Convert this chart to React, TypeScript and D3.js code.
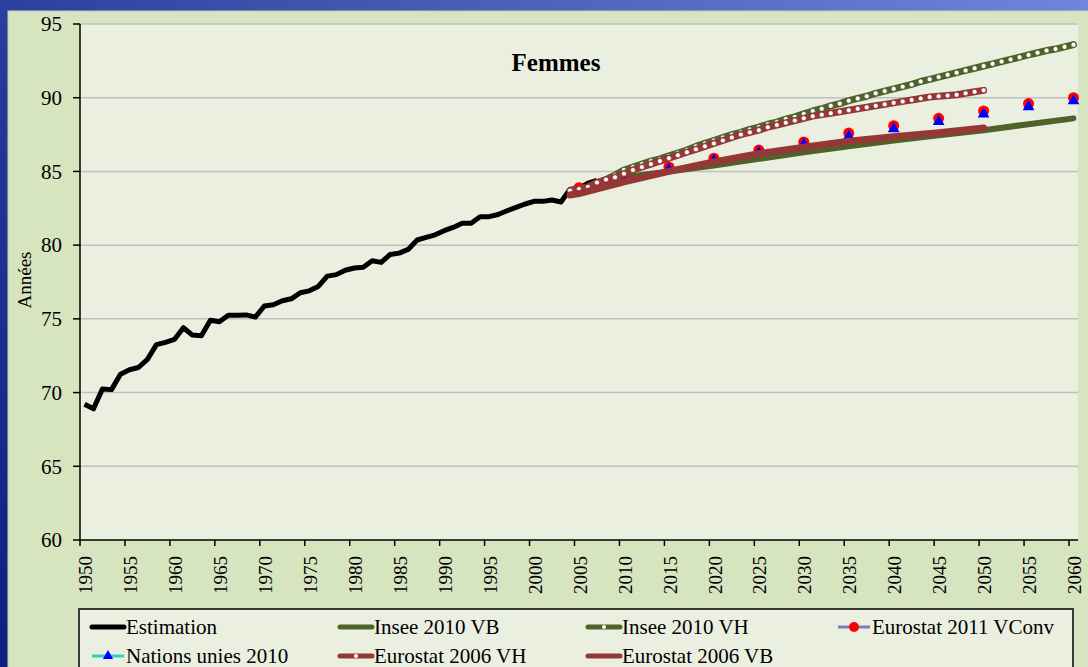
import React from "react";
import * as d3 from "d3";

// Estimation 1950-2007
const estYears = d3.range(1950, 2008);
const estimation = [
  69.2, 68.9, 70.25, 70.2, 71.25, 71.55, 71.7, 72.25, 73.25, 73.4,
  73.6, 74.4, 73.9, 73.85, 74.9, 74.8, 75.25, 75.25, 75.27, 75.12,
  75.87, 75.95, 76.23, 76.36, 76.77, 76.9, 77.2, 77.9, 78.0, 78.3,
  78.45, 78.5, 78.94, 78.83, 79.37, 79.46, 79.71, 80.35, 80.53, 80.7,
  80.98, 81.2, 81.48, 81.48, 81.93, 81.93, 82.08, 82.33, 82.56, 82.79,
  82.97, 82.97, 83.06, 82.93, 83.8, 83.85, 84.2, 84.4,
];

// Insee 2010 VB
const inseeVBYears = [2008, 2010, 2015, 2020, 2025, 2030, 2035, 2040, 2045, 2050, 2055, 2060];
const inseeVB = [84.4, 84.6, 85.0, 85.4, 85.85, 86.3, 86.7, 87.1, 87.45, 87.8, 88.2, 88.6];

// Insee 2010 VH (annual, 2008-2060)
const inseeVHYears = d3.range(2008, 2061);
const inseeVH = [
  84.45, 84.75,
  85.1, 85.3, 85.5, 85.7, 85.85, 86.05, 86.25, 86.45, 86.7, 86.9,
  87.1, 87.3, 87.5, 87.65, 87.85, 88.0, 88.2, 88.35, 88.55, 88.7,
  88.9, 89.1, 89.25, 89.45, 89.6, 89.8, 89.95, 90.1, 90.3, 90.45,
  90.6, 90.75, 90.9, 91.1, 91.25, 91.4, 91.55, 91.7, 91.85, 92.0,
  92.15, 92.3, 92.45, 92.6, 92.75, 92.9, 93.05, 93.2, 93.3, 93.45,
  93.6,
];

// Eurostat 2011 VConv (markers)
const eurostat2011Years = [2005, 2010, 2015, 2020, 2025, 2030, 2035, 2040, 2045, 2050, 2055, 2060];
const eurostat2011 = [83.9, 84.65, 85.3, 85.9, 86.45, 87.0, 87.6, 88.1, 88.6, 89.1, 89.6, 90.0];

// Nations unies 2010 (markers)
const unYears = [2010, 2015, 2020, 2025, 2030, 2035, 2040, 2045, 2050, 2055, 2060];
const nationsUnies = [84.5, 85.2, 85.8, 86.35, 86.9, 87.45, 87.95, 88.45, 88.95, 89.45, 89.85];

// Eurostat 2006 VH (annual, 2004-2050)
const eurostatVHYears = d3.range(2004, 2051);
const eurostatVH = [
  83.7, 83.8, 83.95, 84.25, 84.45, 84.6,
  84.85, 85.1, 85.3, 85.5, 85.7, 85.9, 86.1, 86.3, 86.5, 86.7,
  86.9, 87.1, 87.3, 87.5, 87.65, 87.8, 88.0, 88.15, 88.3, 88.45,
  88.6, 88.75, 88.85, 88.95, 89.05, 89.15, 89.25, 89.35, 89.45, 89.55,
  89.65, 89.75, 89.85, 89.95, 90.05, 90.1, 90.15, 90.2, 90.3, 90.4,
  90.5,
];

// Eurostat 2006 VB
const eurostatVBYears = [2004, 2005, 2010, 2015, 2020, 2025, 2030, 2035, 2040, 2045, 2050];
const eurostatVB = [83.4, 83.5, 84.3, 85.0, 85.65, 86.2, 86.65, 87.05, 87.35, 87.62, 87.95];

const years = d3.range(1950, 2061);
const yTicks = [60, 65, 70, 75, 80, 85, 90, 95];
const xTickYears = d3.range(1950, 2061, 5);

const legendItems = [
  "Estimation",
  "Insee 2010 VB",
  "Insee 2010 VH",
  "Eurostat 2011 VConv",
  "Nations unies 2010",
  "Eurostat 2006 VH",
  "Eurostat 2006 VB",
];

const OLIVE = "#4f6228";
const BRICK = "#953735";
const FONT = "Liberation Serif, Times New Roman, serif";
const txt = { fontFamily: FONT };

const W = 1088;
const H = 667;
const plot = { left: 80, right: 1078, top: 24, bottom: 540 };

export default function App() {
  const x = d3
    .scaleBand<number>()
    .domain(years)
    .range([plot.left, plot.right]);
  const cx = (yr: number) => (x(yr) ?? 0) + x.bandwidth() / 2;
  const y = d3.scaleLinear().domain([60, 95]).range([plot.bottom, plot.top]);

  const line = (ys: number[], vs: number[]) =>
    d3
      .line<number>()
      .x((_, i) => cx(ys[i]))
      .y((v) => y(v))(vs) ?? "";

  const triangle = d3.symbol(d3.symbolTriangle, 60)() ?? "";
  const legTriangle = d3.symbol(d3.symbolTriangle, 45)() ?? "";

  const legCols = [92, 340, 588, 838];
  const legRows = [627, 656];

  const legendSwatch = (i: number, lx: number, ly: number) => {
    const x2 = lx + 32;
    const mid = lx + 16;
    switch (i) {
      case 0:
        return <line x1={lx} x2={x2} y1={ly} y2={ly} stroke="#000" strokeWidth={5} strokeLinecap="round" />;
      case 1:
        return <line x1={lx} x2={x2} y1={ly} y2={ly} stroke={OLIVE} strokeWidth={5} strokeLinecap="round" />;
      case 2:
        return (
          <g>
            <line x1={lx} x2={x2} y1={ly} y2={ly} stroke={OLIVE} strokeWidth={5} strokeLinecap="round" />
            <circle cx={mid} cy={ly} r={2} fill="#fff" />
          </g>
        );
      case 3:
        return (
          <g>
            <line x1={lx} x2={x2} y1={ly} y2={ly} stroke="#7b7fb8" strokeWidth={3} />
            <circle cx={mid} cy={ly} r={5} fill="#ff0000" />
          </g>
        );
      case 4:
        return (
          <g>
            <line x1={lx} x2={x2} y1={ly} y2={ly} stroke="#33cccc" strokeWidth={3} />
            <path d={legTriangle} transform={`translate(${mid},${ly})`} fill="#0000ff" />
          </g>
        );
      case 5:
        return (
          <g>
            <line x1={lx} x2={x2} y1={ly} y2={ly} stroke={BRICK} strokeWidth={5} strokeLinecap="round" />
            <circle cx={mid} cy={ly} r={2} fill="#fff" />
          </g>
        );
      default:
        return <line x1={lx} x2={x2} y1={ly} y2={ly} stroke={BRICK} strokeWidth={5} strokeLinecap="round" />;
    }
  };

  return (
    <svg
      width={W}
      height={H}
      style={{ position: "fixed", left: 0, top: 0, display: "block" }}
    >
      <defs>
        <linearGradient id="bg" x1="0" y1="1" x2="1" y2="0">
          <stop offset="0" stopColor="#0d1f80" />
          <stop offset="0.45" stopColor="#243a98" />
          <stop offset="1" stopColor="#6f86dc" />
        </linearGradient>
      </defs>
      <rect width={W} height={H} fill="url(#bg)" />
      {/* chart area */}
      <rect x={8} y={11} width={W} height={H} fill="#d7e4c0" stroke="#c4cdb4" strokeWidth={1} />
      {/* plot area */}
      <rect
        x={plot.left}
        y={plot.top}
        width={plot.right - plot.left}
        height={plot.bottom - plot.top}
        fill="#ebefe0"
      />

      {/* gridlines */}
      {yTicks
        .filter((t) => t > 60)
        .map((t) => (
          <line key={t} x1={plot.left} x2={plot.right} y1={y(t)} y2={y(t)} stroke="#c0c0c0" strokeWidth={1.5} />
        ))}

      {/* axes */}
      <line x1={plot.left} x2={plot.left} y1={plot.top} y2={plot.bottom} stroke="#000" strokeWidth={1.5} />
      <line x1={plot.left} x2={plot.right} y1={plot.bottom} y2={plot.bottom} stroke="#000" strokeWidth={1.5} />
      {yTicks.map((t) => (
        <g key={t}>
          <line x1={plot.left - 7} x2={plot.left} y1={y(t)} y2={y(t)} stroke="#000" strokeWidth={1.5} />
          <text x={62} y={y(t)} dy="0.35em" textAnchor="end" fontSize={21} fill="#000" style={txt}>
            {t}
          </text>
        </g>
      ))}
      {xTickYears.map((yr) => (
        <g key={yr}>
          <line x1={x(yr) ?? 0} x2={x(yr) ?? 0} y1={plot.bottom} y2={plot.bottom + 6} stroke="#000" strokeWidth={1.5} />
          <text
            transform={`translate(${cx(yr) + 1},556) rotate(-90)`}
            dy="0.35em"
            textAnchor="end"
            fontSize={19}
            fill="#000"
            style={txt}
          >
            {yr}
          </text>
        </g>
      ))}

      <text transform="translate(31,280) rotate(-90)" textAnchor="middle" fontSize={19} fill="#000" style={txt}>
        Années
      </text>
      <text x={556} y={71} textAnchor="middle" fontSize={25} fontWeight="bold" fill="#000" style={txt}>
        Femmes
      </text>

      {/* series */}
      <path d={line(estYears, estimation)} fill="none" stroke="#000" strokeWidth={5} strokeLinejoin="round" />
      <path d={line(inseeVBYears, inseeVB)} fill="none" stroke={OLIVE} strokeWidth={6} strokeLinecap="round" strokeLinejoin="round" />
      <path d={line(inseeVHYears, inseeVH)} fill="none" stroke={OLIVE} strokeWidth={7} strokeLinecap="round" strokeLinejoin="round" />
      {inseeVH.map((v, i) => (
        <circle key={i} cx={cx(inseeVHYears[i])} cy={y(v)} r={2.5} fill="#fff" stroke="#3a4a1c" strokeWidth={0.6} />
      ))}
      {eurostat2011.map((v, i) => (
        <circle key={i} cx={cx(eurostat2011Years[i])} cy={y(v)} r={5.5} fill="#ff0000" />
      ))}
      {nationsUnies.map((v, i) => (
        <path key={i} d={triangle} transform={`translate(${cx(unYears[i])},${y(v) + 1})`} fill="#0000ff" />
      ))}
      <path d={line(eurostatVHYears, eurostatVH)} fill="none" stroke={BRICK} strokeWidth={7} strokeLinecap="round" strokeLinejoin="round" />
      {eurostatVH.map((v, i) => (
        <circle key={i} cx={cx(eurostatVHYears[i])} cy={y(v)} r={2.5} fill="#fff" stroke="#6e1a18" strokeWidth={0.6} />
      ))}
      <path d={line(eurostatVBYears, eurostatVB)} fill="none" stroke={BRICK} strokeWidth={7} strokeLinecap="round" strokeLinejoin="round" />

      {/* legend */}
      <rect x={79} y={609} width={994} height={70} fill="#ebefe0" stroke="#000" strokeWidth={1.5} />
      {legendItems.map((name, i) => {
        const lx = legCols[i % 4];
        const ly = legRows[Math.floor(i / 4)];
        return (
          <g key={name}>
            {legendSwatch(i, lx, ly)}
            <text x={lx + 34} y={ly} dy="0.35em" fontSize={21} fill="#000" style={txt}>
              {name}
            </text>
          </g>
        );
      })}
    </svg>
  );
}
